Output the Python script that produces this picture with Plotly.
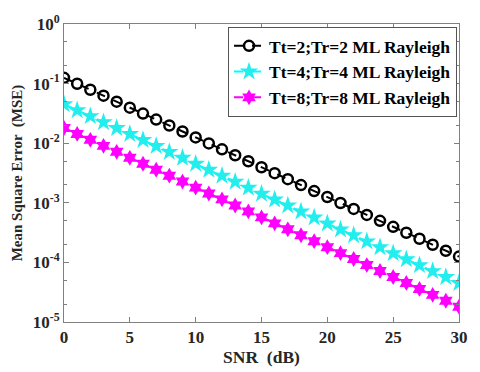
import plotly.graph_objects as go

snr = list(range(0, 31))

mse_tt2 = [0.125, 0.0993, 0.0789, 0.0627, 0.0498, 0.0395, 0.0314, 0.0249, 0.0198, 0.0157,
           0.0125, 0.00993, 0.00789, 0.00627, 0.00498, 0.00395, 0.00314, 0.00249, 0.00198, 0.00157,
           0.00125, 9.93e-4, 7.89e-4, 6.27e-4, 4.98e-4, 3.95e-4, 3.14e-4, 2.49e-4, 1.98e-4, 1.57e-4,
           1.25e-4]
mse_tt4 = [0.045, 0.0357, 0.0284, 0.0225, 0.0179, 0.0142, 0.0113, 0.00898, 0.00713, 0.00567,
           0.0045, 0.00357, 0.00284, 0.00225, 0.00179, 0.00142, 0.00113, 8.98e-4, 7.13e-4, 5.67e-4,
           4.5e-4, 3.57e-4, 2.84e-4, 2.25e-4, 1.79e-4, 1.42e-4, 1.13e-4, 8.98e-5, 7.13e-5, 5.67e-5,
           4.5e-5]
mse_tt8 = [0.018, 0.0143, 0.0114, 0.00902, 0.00717, 0.00569, 0.00452, 0.00359, 0.00285, 0.00227,
           0.0018, 0.00143, 0.00114, 9.02e-4, 7.17e-4, 5.69e-4, 4.52e-4, 3.59e-4, 2.85e-4, 2.27e-4,
           1.8e-4, 1.43e-4, 1.14e-4, 9.02e-5, 7.17e-5, 5.69e-5, 4.52e-5, 3.59e-5, 2.85e-5, 2.27e-5,
           1.8e-5]

names = ["Tt=2;Tr=2 ML Rayleigh", "Tt=4;Tr=4 ML Rayleigh", "Tt=8;Tr=8 ML Rayleigh"]
yticks = [1, 0.1, 0.01, 0.001, 1e-4, 1e-5]
yticklabels = ["10<sup>0</sup>", "10<sup>-1</sup>", "10<sup>-2</sup>", "10<sup>-3</sup>",
               "10<sup>-4</sup>", "10<sup>-5</sup>"]

font = "Liberation Serif"
txt = "#262626"

fig = go.Figure()
fig.add_trace(go.Scatter(
    x=snr, y=mse_tt2, name=names[0], mode="lines+markers",
    line=dict(color="black", width=2, dash="dash"),
    marker=dict(symbol="circle-open", size=10, color="black", line=dict(width=2.5)),
))
fig.add_trace(go.Scatter(
    x=snr, y=mse_tt4, name=names[1], mode="lines+markers",
    line=dict(color="#00ffff", width=2, dash="dash"),
    marker=dict(symbol="star", size=14, color="#22eeee", line=dict(width=0)),
))
fig.add_trace(go.Scatter(
    x=snr, y=mse_tt8, name=names[2], mode="lines+markers",
    line=dict(color="#ff00ff", width=2, dash="dash"),
    marker=dict(symbol="hexagram", size=12, color="#ff00ff", line=dict(width=0)),
))

axis_style = dict(
    showline=True, linecolor="#808080", linewidth=1, mirror="ticks",
    ticks="inside", tickcolor="#808080", showgrid=False, zeroline=False,
    tickfont=dict(family=font, size=17, color=txt, weight="bold"),
)

fig.update_xaxes(
    range=[0, 30], tickvals=[0, 5, 10, 15, 20, 25, 30], ticklen=5,
    title=dict(text="SNR  (dB)", font=dict(family=font, size=17.5, color=txt, weight="bold"), standoff=0),
    **axis_style,
)
fig.update_yaxes(
    type="log", range=[-5, 0], tickvals=yticks, ticktext=yticklabels, ticklen=5,
    minor=dict(ticks="inside", ticklen=3, tickcolor="#808080", showgrid=False),
    title=dict(text="Mean Square Error  (MSE)", font=dict(family=font, size=15, color=txt, weight="bold"), standoff=6),
    **axis_style,
)

fig.update_layout(
    width=480, height=372,
    margin=dict(l=64, r=19, t=15, b=49),
    plot_bgcolor="white", paper_bgcolor="white",
    font=dict(family=font, size=16, color="black", weight="bold"),
    legend=dict(
        x=0.995, y=0.99, xanchor="right", yanchor="top",
        bgcolor="white", bordercolor="#555555", borderwidth=1,
        font=dict(family=font, size=17.5, color="black", weight="bold"),
        itemwidth=30, tracegroupgap=0,
    ),
)

# drop the page's default body margin so the figure sits at the window's corner
fig.write_html("out.html", config={"displayModeBar": False},
               post_script="document.body.style.margin='0';")
